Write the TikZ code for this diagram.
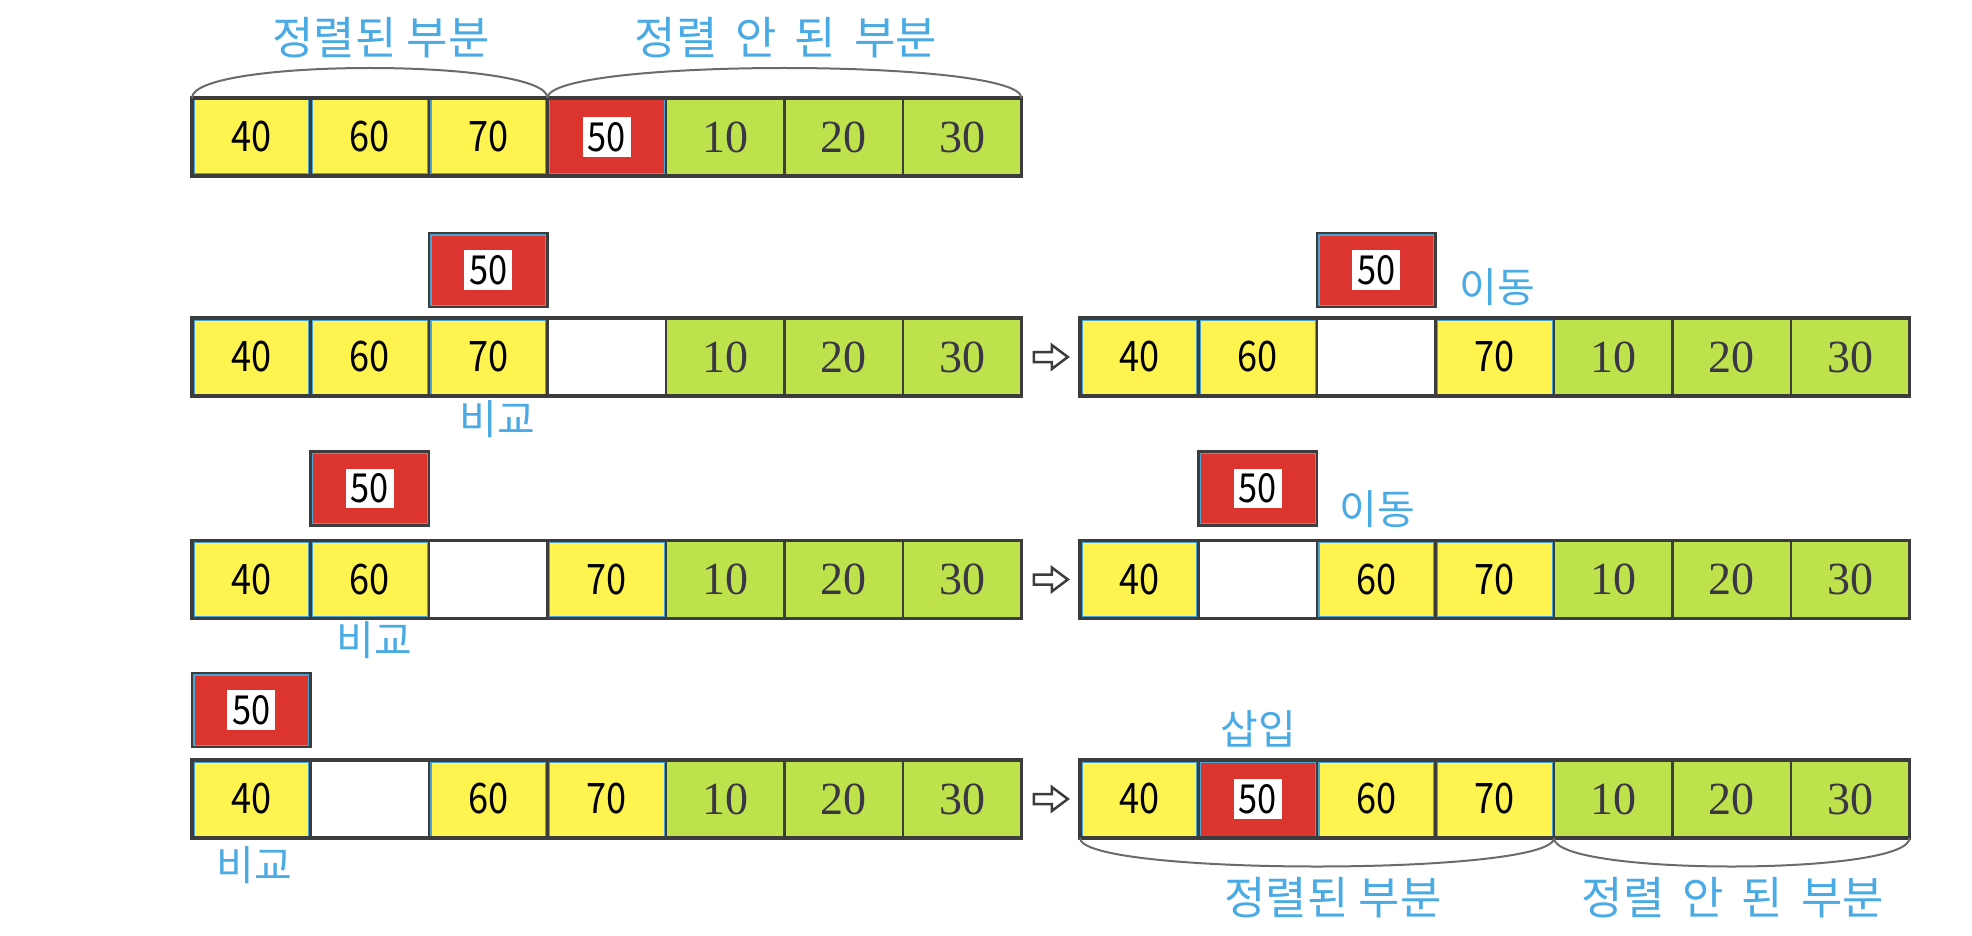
\documentclass[tikz,border=0pt]{standalone}
\usepackage{fontspec}
\newfontfamily\kfont{Noto Sans CJK KR}
\newfontfamily\knum[FakeStretch=0.86]{Noto Sans CJK KR}
\newfontfamily\snum{Liberation Serif}
\usetikzlibrary{calc}
\definecolor{cyellow}{HTML}{FFF350}
\definecolor{cgreen}{HTML}{BEE24C}
\definecolor{cred}{HTML}{DC3530}
\definecolor{cblue}{HTML}{4BA3D3}
\definecolor{cgray}{HTML}{3C3C3C}
\definecolor{carc}{HTML}{6B6B6B}
\definecolor{clabel}{HTML}{4AAAE4}
\definecolor{cnum}{HTML}{3A3646}
\newcommand\fiftybox{\setlength{\fboxsep}{5pt}\colorbox{white}{50}}
\newcommand\mkrow[4]{%
  \foreach [count=\i] \s/\v in {#4} {
    \node[\s] (#1-\i) at ({#2+(\i-0.5)*118.5},#3) {\v};
  }
  \draw[outerbox] (#1-1.north west) rectangle (#1-7.south east);
}
\begin{document}
\begin{tikzpicture}[x=1pt,y=-1pt,
  cell/.style={draw=cgray, line width=2.5pt, minimum width=118.5pt, minimum height=78pt, inner sep=0pt, outer sep=0pt},
  bluein/.style={path picture={\draw[cblue,line width=5pt] (path picture bounding box.south west) rectangle (path picture bounding box.north east);}},
  ycell/.style={cell, fill=cyellow, bluein, font=\knum\fontsize{42}{42}\selectfont},
  gcell/.style={cell, fill=cgreen, text=cnum, font=\snum\fontsize{46}{46}\selectfont},
  rcell/.style={cell, fill=cred, bluein, font=\knum\fontsize{40}{40}\selectfont},
  wcell/.style={cell, fill=white},
  floatbox/.style={rcell, minimum height=74pt},
  outerbox/.style={draw=cgray, line width=3.5pt},
  lbl/.style={text=clabel, font=\kfont\fontsize{41}{41}\selectfont, inner sep=0pt},
  biglbl/.style={lbl, font=\kfont\fontsize{45}{45}\selectfont},
  arcline/.style={draw=carc, line width=2pt},
  hollow/.style={draw=cgray, line width=2.5pt, fill=white, line join=miter}
]
\useasboundingbox (0,0) rectangle (1972,936);

% rows
\mkrow{T}{192}{137}{ycell/40,ycell/60,ycell/70,rcell/\fiftybox,gcell/10,gcell/20,gcell/30}
\mkrow{L2}{192}{357}{ycell/40,ycell/60,ycell/70,wcell/{},gcell/10,gcell/20,gcell/30}
\mkrow{R2}{1080}{357}{ycell/40,ycell/60,wcell/{},ycell/70,gcell/10,gcell/20,gcell/30}
\mkrow{L3}{192}{579.5}{ycell/40,ycell/60,wcell/{},ycell/70,gcell/10,gcell/20,gcell/30}
\mkrow{R3}{1080}{579.5}{ycell/40,wcell/{},ycell/60,ycell/70,gcell/10,gcell/20,gcell/30}
\mkrow{L4}{192}{799}{ycell/40,wcell/{},ycell/60,ycell/70,gcell/10,gcell/20,gcell/30}
\mkrow{R4}{1080}{799}{ycell/40,rcell/\fiftybox,ycell/60,ycell/70,gcell/10,gcell/20,gcell/30}

% floating 50 boxes
\node[floatbox] (F2L) at ($(L2-3)+(0,-87)$) {\fiftybox};
\node[floatbox] (F2R) at ($(R2-3)+(0,-87)$) {\fiftybox};
\node[floatbox] (F3L) at ($(L3-2)+(0,-91)$) {\fiftybox};
\node[floatbox] (F3R) at ($(R3-2)+(0,-91)$) {\fiftybox};
\node[floatbox] (F4L) at ($(L4-1)+(0,-89)$) {\fiftybox};

% hollow arrows
\foreach \r in {2,3,4} {
  \coordinate (A\r) at ($(L\r-7.east)!0.5!(R\r-1.west)$);
  \draw[hollow] ($(A\r)+(-17,-5)$) -- ++(18,0) -- ++(0,-7) -- ++(16,12) -- ++(-16,12) -- ++(0,-7) -- ++(-18,0) -- cycle;
}

% arcs
\draw[arcline] (T-1.north west) .. controls +(0,-40) and +(0,-40) .. (T-3.north east);
\draw[arcline] (T-4.north west) .. controls +(0,-40) and +(0,-40) .. (T-7.north east);
\draw[arcline] (R4-1.south west) .. controls +(0,38) and +(0,38) .. (R4-4.south east);
\draw[arcline] (R4-5.south west) .. controls +(0,38) and +(0,38) .. (R4-7.south east);

% labels
\node[biglbl] (tl1) at (381,38) {정렬된 부분};
\node[biglbl] (tl2) at (786,38) {정렬\hspace{0.4em}안\hspace{0.4em}된\hspace{0.4em}부분};
\node[lbl] (c2) at (497,419) {비교};
\node[lbl] (m2) at (1497,287) {이동};
\node[lbl] (c3) at (374,640) {비교};
\node[lbl] (m3) at (1377,509) {이동};
\node[lbl] (c4) at (254,865) {비교};
\node[lbl] (ins) at (1258,729) {삽입};
\node[biglbl] (bl1) at (1333,898) {정렬된 부분};
\node[biglbl] (bl2) at (1733,898) {정렬\hspace{0.4em}안\hspace{0.4em}된\hspace{0.4em}부분};
\end{tikzpicture}
\end{document}
